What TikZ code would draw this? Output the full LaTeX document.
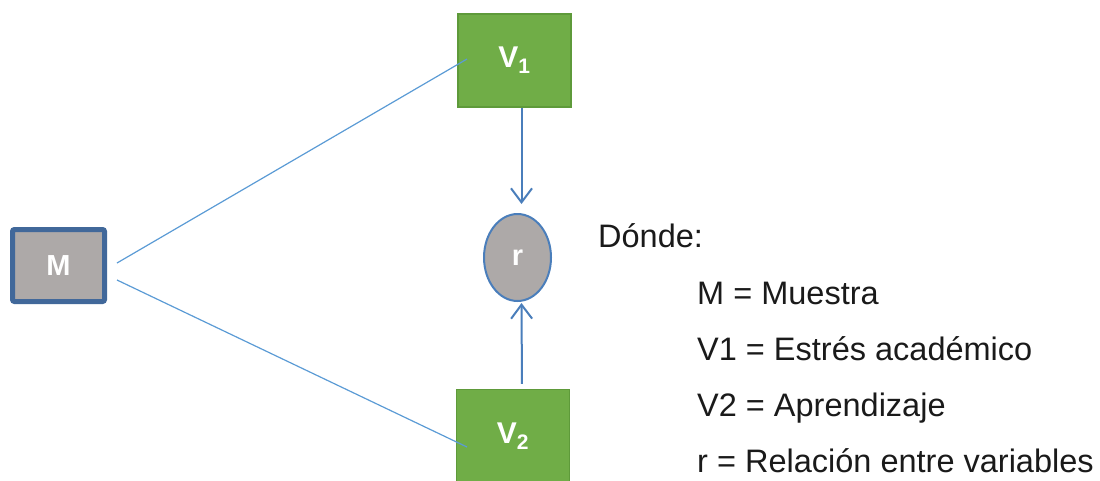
\documentclass[tikz,border=0pt]{standalone}
\usepackage{fontspec}
\setmainfont{Liberation Sans}
\usetikzlibrary{arrows.meta,shapes.geometric}
\definecolor{boxgreen}{HTML}{70AD47}
\definecolor{boxgreenedge}{HTML}{5E9A3A}
\definecolor{mgray}{HTML}{ADA9A8}
\definecolor{medge}{HTML}{41689A}
\definecolor{thinblue}{HTML}{5B9BD5}
\definecolor{arrowblue}{HTML}{4A7EBB}
\definecolor{txt}{HTML}{1A1A1A}
\tikzset{
  varbox/.style={draw=boxgreenedge, line width=1.5pt, fill=boxgreen, minimum width=113pt, minimum height=93pt, inner sep=0pt, text=white, font=\fontsize{30}{36}\selectfont\bfseries},
  mbox/.style={draw=medge, line width=5pt, fill=mgray, rounded corners=2pt, minimum width=92pt, minimum height=72pt, inner sep=0pt, text=white, font=\fontsize{29}{35}\selectfont\bfseries},
  rnode/.style={ellipse, draw=arrowblue, line width=2pt, fill=mgray, minimum width=67pt, minimum height=87pt, inner sep=0pt, text=white, font=\fontsize{29}{35}\selectfont\bfseries},
  thinline/.style={draw=thinblue, line width=1.2pt},
  varrow/.style={draw=arrowblue, line width=2pt, -{Straight Barb[length=14pt,width=21pt,line width=2pt]}},
  legend/.style={anchor=base west, inner sep=0pt, text=txt, font=\fontsize{32.5}{38}\selectfont}
}
\begin{document}
\begin{tikzpicture}[x=1pt,y=-1pt]
\useasboundingbox (0,0) rectangle (1100,480);
\node[mbox] (M) at (58.5,265.5) {M};
\node[varbox] (V1) at (514.5,60.5) {V\textsubscript{1}};
\node[varbox] (V2) at (513,436) {V\textsubscript{2}};
\node[rnode] (r) at (517.5,257.5) {r};
\coordinate (m1) at (117,263);
\coordinate (m2) at (117,280);
\coordinate (e1) at (467,59);
\coordinate (e2) at (467,447);
\draw[thinline] (m1) -- (e1);
\draw[thinline] (m2) -- (e2);
\draw[varrow, shorten >=9pt] ([xshift=7pt]V1.south) -- ([xshift=4pt]r.north);
\draw[varrow, shorten <=5pt, shorten >=1pt] ([xshift=9pt]V2.north) -- ([xshift=4pt]r.south);
\node[legend] (donde) at (598,247) {Dónde:};
\node[legend] (l1) at (697,304) {M = Muestra};
\node[legend] (l2) at (697,360) {V1 = Estrés académico};
\node[legend] (l3) at (697,416) {V2 = Aprendizaje};
\node[legend] (l4) at (697,472) {r = Relación entre variables};
\end{tikzpicture}
\end{document}
